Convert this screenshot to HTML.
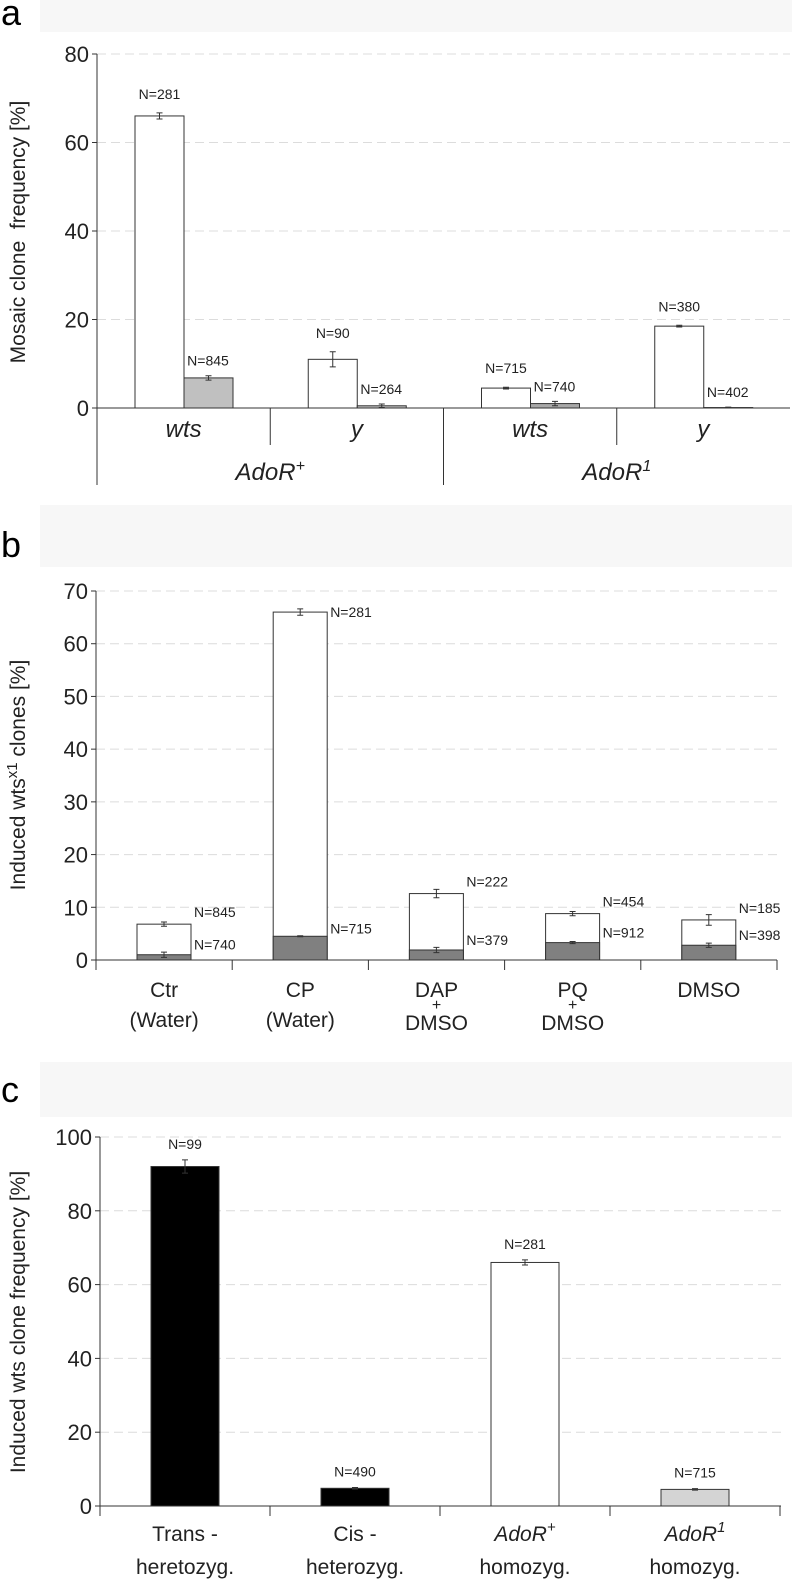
<!DOCTYPE html>
<html><head><meta charset="utf-8"><style>
body{margin:0;background:#fff}
svg{display:block;font-family:"Liberation Sans",sans-serif}
</style></head><body>
<svg id="fig" width="792" height="1586" viewBox="0 0 792 1586" xmlns="http://www.w3.org/2000/svg">
<rect x="0" y="0" width="792" height="1586" fill="#fff"/>
<rect x="40" y="0" width="752" height="32" fill="#f7f7f7"/>
<rect x="40" y="505" width="752" height="62" fill="#f7f7f7"/>
<rect x="40" y="1062" width="752" height="55" fill="#f7f7f7"/>
<text x="1" y="25" font-size="36">a</text>
<text x="1" y="557" font-size="36">b</text>
<text x="1" y="1102" font-size="36">c</text>
<g id="pa"></g><g id="pb"></g><g id="pc"></g>
</svg>
<script>
// Panel a data
const aCats = ["wts","y","wts","y"];
const aWhite = [66, 11, 4.5, 18.5];
const aWhiteErr = [0.7, 1.7, 0.2, 0.2];
const aGray = [6.8, 0.5, 1.0, 0.1];
const aGrayErr = [0.5, 0.4, 0.5, 0.1];
const aWhiteN = ["N=281","N=90","N=715","N=380"];
const aGrayN = ["N=845","N=264","N=740","N=402"];
const aTicks = [0,20,40,60,80];
// Panel b data
const bCats = [["Ctr","(Water)"],["CP","(Water)"],["DAP","+","DMSO"],["PQ","+","DMSO"],["DMSO"]];
const bTotal = [6.8, 66, 12.6, 8.8, 7.6];
const bTotalErr = [0.4, 0.6, 0.8, 0.4, 1.0];
const bGray = [1.0, 4.5, 1.9, 3.3, 2.8];
const bGrayErr = [0.5, 0.1, 0.5, 0.2, 0.4];
const bTopN = ["N=845","N=281","N=222","N=454","N=185"];
const bGrayN = ["N=740","N=715","N=379","N=912","N=398"];
const bTicks = [0,10,20,30,40,50,60,70];
// Panel c data
const cVals = [92, 4.8, 66, 4.5];
const cErr = [1.8, 0.2, 0.7, 0.2];
const cN = ["N=99","N=490","N=281","N=715"];
const cTicks = [0,20,40,60,80,100];

const NS="http://www.w3.org/2000/svg";
function mk(parent,tag,attrs,txt){const e=document.createElementNS(NS,tag);for(const k in attrs)e.setAttribute(k,attrs[k]);if(txt!==undefined)e.textContent=txt;parent.appendChild(e);return e;}

function axisFrame(g,x0,x1,y0,yTop,ticks,max,prefix,title,titleY){
  const sy=v=>y0-(y0-yTop)*v/max;
  ticks.forEach(t=>{
    if(t>0){const gl=mk(g,'line',{x1:x0,x2:x1,y1:sy(t),y2:sy(t),stroke:'#dcdcdc','stroke-width':1,'stroke-dasharray':'9,5'});
      
      }
    const tk=mk(g,'line',{x1:x0-5,x2:x0,y1:sy(t),y2:sy(t),stroke:'#333'});
    
    
    const tl=mk(g,'text',{x:x0-8,y:sy(t)+8,'font-size':22,'text-anchor':'end',fill:'#222'},String(t));
    
    
  });
  const ax=mk(g,'line',{x1:x0,x2:x0,y1:yTop,y2:y0,stroke:'#333'});
  
  
  const bl=mk(g,'line',{x1:x0,x2:x1,y1:y0,y2:y0,stroke:'#333'});
  
  
  const tt=mk(g,'text',{x:0,y:0,'font-size':21,'text-anchor':'middle',fill:'#222',transform:`translate(25,${titleY}) rotate(-90)`});
  tt.innerHTML=title;
  
  
  return sy;
}
function errBar(g,cx,top,e,sy,name){
  const p=mk(g,'path',{d:`M${cx},${sy(top+e)}V${sy(top-e)}M${cx-3},${sy(top+e)}H${cx+3}M${cx-3},${sy(top-e)}H${cx+3}`,stroke:'#333','stroke-width':1,fill:'none'});
  
  
}
function bar(g,x,w,v0,v1,sy,fill,name){
  const r=mk(g,'rect',{x:x,y:sy(v1),width:w,height:sy(v0)-sy(v1),fill:fill,stroke:'#333','stroke-width':1});
  
  
}
function label(g,x,y,t,name,anchor){
  const l=mk(g,'text',{x:x,y:y,'font-size':14,'text-anchor':anchor||'middle',fill:'#222'},t);
  
  
}

// Panel a
(function(){
  const g=document.getElementById('pa');
  const x0=97,x1=790,y0=408,yTop=54;
  const sy=axisFrame(g,x0,x1,y0,yTop,aTicks,80,'a','Mosaic clone&#160;&#160;frequency [%]',232);
  const gw=(x1-x0)/4, bw=49;
  aCats.forEach((c,i)=>{
    const xs=x0+gw*i+38;
    bar(g,xs,bw,0,aWhite[i],sy,'#fff','a-bar-white-'+i);
    bar(g,xs+bw,bw,0,aGray[i],sy,i<2?'#c0c0c0':'#a8a8a8','a-bar-gray-'+i);
    errBar(g,xs+bw/2,aWhite[i],aWhiteErr[i],sy,'a-error-white-'+i);
    errBar(g,xs+bw*1.5,aGray[i],aGrayErr[i],sy,'a-error-gray-'+i);
    label(g,xs+bw/2,sy(aWhite[i]+aWhiteErr[i])-14,aWhiteN[i],'a-n-label-white-'+i);
    label(g,xs+bw+24,sy(aGray[i]+aGrayErr[i])-10,aGrayN[i],'a-n-label-gray-'+i);
    const cl=mk(g,'text',{x:x0+gw*(i+0.5),y:y0+29,'font-size':24,'font-style':'italic','text-anchor':'middle',fill:'#222'},c);
    
    
    if(i>0){const d=mk(g,'line',{x1:x0+gw*i,x2:x0+gw*i,y1:y0,y2:i==2?y0+77:y0+37,stroke:'#333'});
      
      }
  });
  const d0=mk(g,'line',{x1:x0,x2:x0,y1:y0,y2:y0+77,stroke:'#333'});
  
  
  const g1=mk(g,'text',{x:x0+gw,y:y0+72,'font-size':24,'font-style':'italic','text-anchor':'middle',fill:'#222'});
  g1.innerHTML='AdoR<tspan dy="-9" font-size="16">+</tspan>';
  
  
  const g2=mk(g,'text',{x:x0+gw*3,y:y0+72,'font-size':24,'font-style':'italic','text-anchor':'middle',fill:'#222'});
  g2.innerHTML='AdoR<tspan dy="-9" font-size="16">1</tspan>';
  
  
})();

// Panel b
(function(){
  const g=document.getElementById('pb');
  const x0=96,x1=777,y0=960,yTop=591;
  const sy=axisFrame(g,x0,x1,y0,yTop,bTicks,70,'b','Induced wts<tspan dy="-8" font-size="15">x1</tspan><tspan dy="8"> clones [%]</tspan>',775);
  const gw=(x1-x0)/5,bw=54;
  bCats.forEach((c,i)=>{
    const xs=x0+gw*i+41;
    bar(g,xs,bw,0,bTotal[i],sy,'#fff','b-bar-white-'+i);
    bar(g,xs,bw,0,bGray[i],sy,'#808080','b-bar-gray-'+i);
    errBar(g,xs+bw/2,bTotal[i],bTotalErr[i],sy,'b-error-white-'+i);
    errBar(g,xs+bw/2,bGray[i],bGrayErr[i],sy,'b-error-gray-'+i);
    label(g,xs+bw+3,sy(bTotal[i])+ (i==1?5:-7),bTopN[i],'b-n-label-top-'+i,'start');
    label(g,xs+bw+3,sy(bGray[i])+ (i==1?-3:-5),bGrayN[i],'b-n-label-gray-'+i,'start');
    const dv=mk(g,'line',{x1:x0+gw*(i+1),x2:x0+gw*(i+1),y1:y0,y2:y0+10,stroke:'#333'});
    
    
    const ys=c.length==3?[997,1010,1030]:[997,1027];
    c.forEach((t,j)=>{
      const l=mk(g,'text',{x:x0+gw*(i+0.5),y:ys[j],'font-size':t=='+'?16:21,'text-anchor':'middle',fill:'#222'},t);
      
      
    });
  });
  const d0=mk(g,'line',{x1:x0,x2:x0,y1:y0,y2:y0+10,stroke:'#333'});
  
  
})();

// Panel c
(function(){
  const g=document.getElementById('pc');
  const x0=100,x1=781,y0=1506,yTop=1137;
  const sy=axisFrame(g,x0,x1,y0,yTop,cTicks,100,'c','Induced wts clone frequency [%]',1322);
  const gw=170,bw=68,fills=['#000','#000','#fff','#d4d4d4'];
  const lab=[['Trans -','heretozyg.'],['Cis -','heterozyg.'],['AdoR<tspan dy="-9" font-size="15">+</tspan>','homozyg.'],['AdoR<tspan dy="-9" font-size="15">1</tspan>','homozyg.']];
  cVals.forEach((v,i)=>{
    const xs=x0+gw*i+51;
    bar(g,xs,bw,0,v,sy,fills[i],'c-bar-'+i);
    errBar(g,xs+bw/2,v,cErr[i],sy,'c-error-'+i);
    label(g,xs+bw/2,sy(v+cErr[i])-11,cN[i],'c-n-label-'+i);
    const dv=mk(g,'line',{x1:x0+gw*(i+1),x2:x0+gw*(i+1),y1:y0,y2:y0+10,stroke:'#333'});
    
    
    const l1=mk(g,'text',{x:x0+gw*(i+0.5),y:1541,'font-size':21,'text-anchor':'middle',fill:'#222','font-style':i>=2?'italic':'normal'});
    l1.innerHTML=lab[i][0];
    
    
    const l2=mk(g,'text',{x:x0+gw*(i+0.5),y:1574,'font-size':21,'text-anchor':'middle',fill:'#222'},lab[i][1]);
    
    
  });
  const d0=mk(g,'line',{x1:x0,x2:x0,y1:y0,y2:y0+10,stroke:'#333'});
  
  
})();
</script>
</body></html>
